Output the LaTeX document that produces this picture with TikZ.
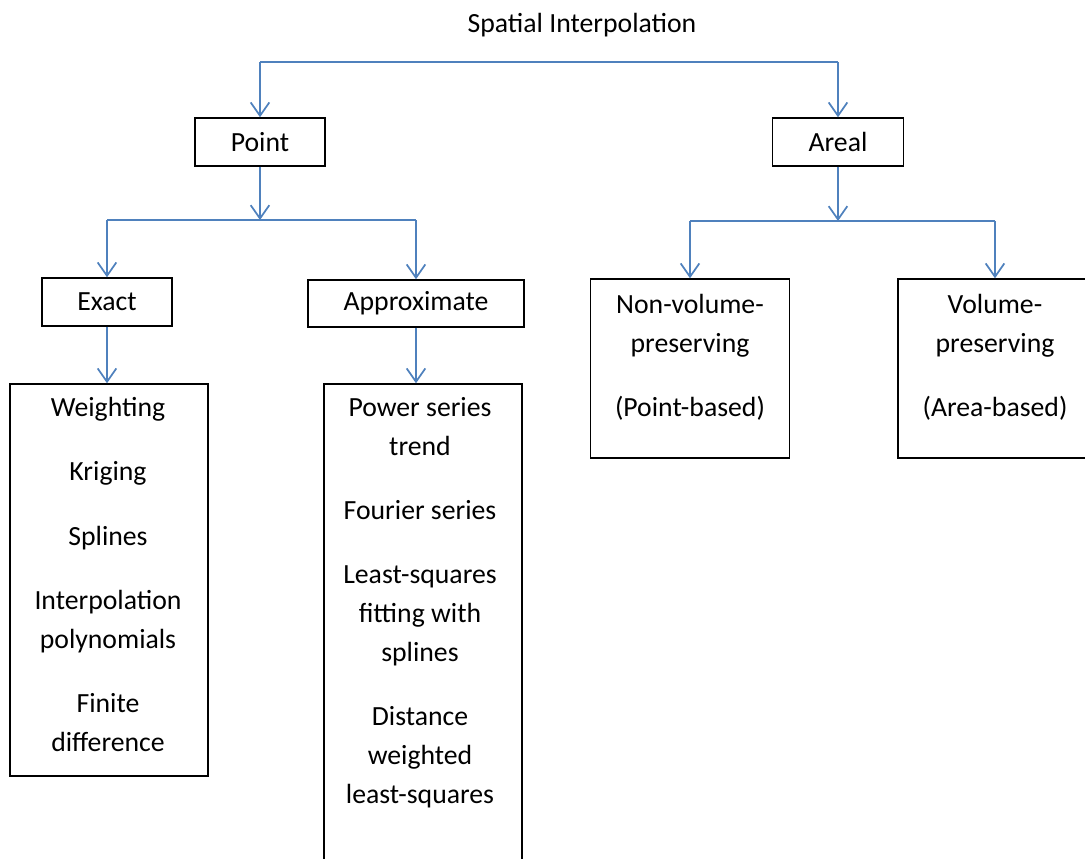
\documentclass[tikz,border=0pt]{standalone}
\usepackage{fontspec}
\setmainfont{Carlito}
\usepackage{xcolor}
\usetikzlibrary{arrows.meta}
\definecolor{linkblue}{RGB}{79,129,189}

\begin{document}
\begin{tikzpicture}[x=0.75pt,y=0.75pt,yscale=-1,xscale=1,
	box/.style={draw=black,line width=1.1pt,rectangle,inner sep=0pt},
	txt/.style={inner sep=0pt,align=center,font=\fontsize{20.8}{29.2}\selectfont},
	link/.style={draw=linkblue,line width=1.3pt},
	arr/.style={link,-{Straight Barb[length=10pt,width=14pt,line width=1.3pt]}}]
	\useasboundingbox (0,0) rectangle (1085,858);
	\clip (0,0) rectangle (1085,858);
	
	% Text Node
	\node[txt] (title) at (582,25) {Spatial Interpolation};
	
	%Shape: Rectangle
	\node[box,txt,minimum width=97.5pt,minimum height=36pt] (point) at (260,142) {Point};
	%Shape: Rectangle
	\node[box,txt,minimum width=98.25pt,minimum height=36pt] (areal) at (838,142) {Areal};
	%Shape: Rectangle
	\node[box,txt,minimum width=97.5pt,minimum height=36pt] (exact) at (107,302) {Exact};
	%Shape: Rectangle
	\node[box,txt,minimum width=162pt,minimum height=35.25pt] (approx) at (416,303.5) {Approximate};
	%Shape: Rectangle
	\node[box,minimum width=148.5pt,minimum height=294pt] (exactlist) at (109,580) {};
	%Shape: Rectangle
	\node[box,minimum width=148.5pt,minimum height=372pt] (approxlist) at (423,632) {};
	%Shape: Rectangle
	\node[box,minimum width=149.25pt,minimum height=134.25pt] (nonvol) at (690,368.5) {};
	%Shape: Rectangle
	\node[box,minimum width=145.5pt,minimum height=134.25pt] (vol) at (995,368.5) {};
	
	% Text Node
	\node[txt,anchor=north] (exacttext) at (108,397) {Weighting\\[19pt] Kriging\\[19pt] Splines\\[19pt] Interpolation\\ polynomials\\[19pt] Finite\\ difference};
	% Text Node
	\node[txt,anchor=north] (approxtext) at (420,397) {Power series\\ trend\\[19pt] Fourier series\\[19pt] Least-squares\\ fitting with\\ splines\\[19pt] Distance\\ weighted\\ least-squares};
	% Text Node
	\node[txt,anchor=north] (nonvoltext) at (690,294) {Non-volume-\\ preserving\\[19pt] (Point-based)};
	% Text Node
	\node[txt,anchor=north] (voltext) at (995,294) {Volume-\\ preserving\\[19pt] (Area-based)};
	
	%Straight Lines
	\coordinate (topbar) at (582,62);
	\draw[link] (point.north |- topbar) -- (areal.north |- topbar);
	\draw[arr] (point.north |- topbar) -- (point.north);
	\draw[arr] (areal.north |- topbar) -- (areal.north);
	
	%Straight Lines
	\coordinate (pointbar) at (260,220);
	\draw[arr] (point.south) -- (point.south |- pointbar);
	\draw[link] (exact.north |- pointbar) -- (approx.north |- pointbar);
	\draw[arr] (exact.north |- pointbar) -- (exact.north);
	\draw[arr] (approx.north |- pointbar) -- (approx.north);
	
	%Straight Lines
	\coordinate (arealbar) at (838,221);
	\draw[arr] (areal.south) -- (areal.south |- arealbar);
	\draw[link] (nonvol.north |- arealbar) -- (vol.north |- arealbar);
	\draw[arr] (nonvol.north |- arealbar) -- (nonvol.north);
	\draw[arr] (vol.north |- arealbar) -- (vol.north);
	
	%Straight Lines
	\draw[arr] (exact.south) -- (exact.south |- exactlist.north);
	\draw[arr] (approx.south) -- (approx.south |- approxlist.north);
	
\end{tikzpicture}
\end{document}
